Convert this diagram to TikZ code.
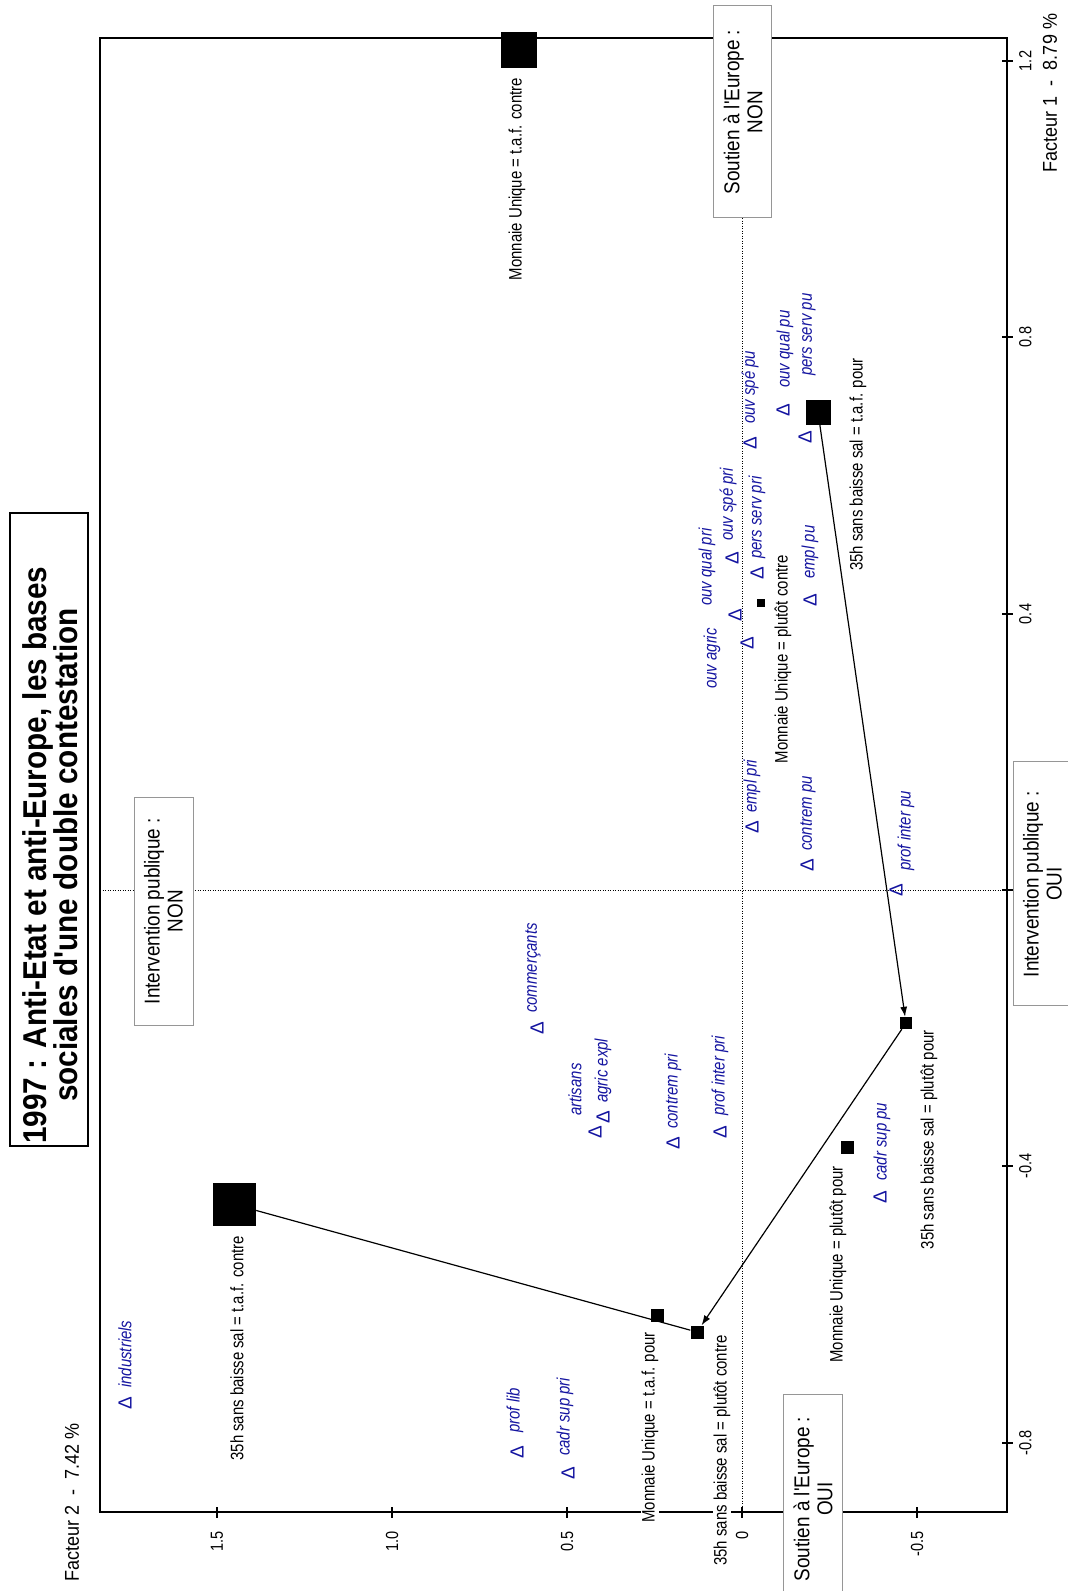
\documentclass[tikz,border=0pt]{standalone}
\usepackage{fontspec}
\setmainfont{Liberation Sans}
\newfontfamily\nf[FakeStretch=0.83]{Liberation Sans}
\newfontfamily\bxf[FakeStretch=0.88]{Liberation Sans}
\newfontfamily\ttf[FakeStretch=0.9]{Liberation Sans}
\usetikzlibrary{arrows.meta}
\definecolor{lblue}{RGB}{20,20,160}
\definecolor{boxgray}{RGB}{150,150,150}
\pgfdeclarelayer{bg}
\pgfsetlayers{bg,main}
\begin{document}
\begin{tikzpicture}[x=1pt,y=-1pt,
  sqr/.style={fill=black,draw=none,inner sep=0pt,minimum size=#1},
  tri/.style={text=lblue,rotate=90,inner sep=0pt,font=\fontsize{19}{19}\selectfont},
  blbl/.style={text=lblue,rotate=90,anchor=west,inner sep=0pt,font=\nf\fontsize{18}{20}\selectfont\itshape},
  klbl/.style={rotate=90,anchor=east,inner sep=1pt,fill=white,font=\nf\fontsize{18}{20}\selectfont},
  gbox/.style={draw=boxgray,fill=white,line width=1pt},
  boxtxt/.style={rotate=90,align=center,inner sep=0pt,font=\bxf\fontsize{21.5}{23}\selectfont},
  rtick/.style={rotate=90,anchor=north,inner sep=0pt,font=\nf\fontsize{17.5}{18}\selectfont},
  btick/.style={rotate=90,anchor=east,inner sep=0pt,font=\nf\fontsize{17.5}{18}\selectfont},
  conn/.style={line width=1.2pt},
  arr/.style={conn,-{Latex[length=10pt,width=7pt]}},
  dotl/.style={line width=0.8pt,dash pattern=on 1pt off 1.5pt}
]
\useasboundingbox (0,0) rectangle (1068,1591);

% ---------- squares (modalities) ----------
\node[sqr=36] (MUtc) at (519,49.5) {};
\node[sqr=43] (Htc) at (234.5,1204.5) {};
\node[sqr=13] (MUtp) at (657,1315) {};
\node[sqr=13] (Hpc) at (697,1332) {};
\node[sqr=12] (Hpp) at (906,1023) {};
\node[sqr=13] (MUpp) at (847,1147) {};
\node[sqr=8] (MUpc) at (761,603) {};
\node[sqr=25] (Htp) at (818,412) {};

\begin{pgfonlayer}{bg}
\fill[white] (0,0) rectangle (1068,1591);
\coordinate (vtop) at (742,38);
\coordinate (vbot) at (742,1512);
\coordinate (hleft) at (100,890);
\coordinate (hright) at (1007,890);
\draw[dotl] (vtop) -- (vbot);
\draw[dotl] (hleft) -- (hright);
\draw[line width=1.4pt] (100,38) rectangle (1007,1512);
\foreach \y in {61,337,614,890,1166,1443} \draw[line width=1.2pt] (1002,\y) -- (1013,\y);
\foreach \x in {217,392,567,742,917} \draw[line width=1.2pt] (\x,1507) -- (\x,1518);
\draw[conn] (Htc) -- (Hpc);
\draw[arr] (Htp) -- (Hpp);
\draw[arr] (Hpp) -- (Hpc);
\end{pgfonlayer}

% ---------- axes labels ----------
\node[rtick] (r1) at (1019,61) {1.2};
\node[rtick] (r2) at (1019,337) {0.8};
\node[rtick] (r3) at (1019,614) {0.4};
\node[rtick] (r4) at (1019,890) {0};
\node[rtick] (r5) at (1019,1166) {-0.4};
\node[rtick] (r6) at (1019,1443) {-0.8};
\node[btick] (c1) at (217,1531) {1.5};
\node[btick] (c2) at (392,1531) {1.0};
\node[btick] (c3) at (567,1531) {0.5};
\node[btick] (c4) at (742,1531) {0};
\node[btick] (c5) at (917,1531) {-0.5};
\node[rotate=90,inner sep=0pt,font=\ttf\fontsize{20}{22}\selectfont] (f1) at (1050,93) {Facteur 1\ \ -\ \ 8.79 \%};
\node[rotate=90,inner sep=0pt,font=\ttf\fontsize{20}{22}\selectfont] (f2) at (72,1502) {Facteur 2\ \ -\ \ 7.42 \%};

% ---------- black labels ----------
\node[klbl] (lMUtc) at (517,77) {Monnaie Unique = t.a.f. contre};
\node[klbl] (lHtc) at (237,1235) {35h sans baisse sal = t.a.f. contre};
\node[klbl] (lMUtp) at (650,1331) {Monnaie Unique = t.a.f. pour};
\node[klbl] (lHpc) at (722,1334) {35h sans baisse sal = plutôt contre};
\node[klbl] (lHpp) at (929,1029) {35h sans baisse sal = plutôt pour};
\node[klbl] (lMUpp) at (838,1165) {Monnaie Unique = plutôt pour};
\node[klbl] (lMUpc) at (783,554) {Monnaie Unique = plutôt contre};
\node[klbl] (lHtp) at (858,357) {35h sans baisse sal = t.a.f. pour};

% ---------- triangles and blue labels ----------
\node[tri] (t1) at (125,1403) {Δ};  \node[blbl] (b1) at (125,1388) {industriels};
\node[tri] (t2) at (517,1452) {Δ};  \node[blbl] (b2) at (515,1433) {prof lib};
\node[tri] (t3) at (568,1473) {Δ};  \node[blbl] (b3) at (565,1456) {cadr sup pri};
\node[tri] (t4) at (537,1028) {Δ};  \node[blbl] (b4) at (533,1013) {commerçants};
\node[tri] (t5) at (595,1132) {Δ};  \node[blbl] (b5) at (575,1116) {artisans};
\node[tri] (t6) at (603,1117) {Δ};  \node[blbl] (b6) at (603,1103) {agric expl};
\node[tri] (t7) at (673,1143) {Δ};  \node[blbl] (b7) at (673,1129) {contrem pri};
\node[tri] (t8) at (720,1132) {Δ};  \node[blbl] (b8) at (720,1116) {prof inter pri};
\node[tri] (t9) at (880,1197) {Δ};  \node[blbl] (b9) at (882,1181) {cadr sup pu};
\node[tri] (t10) at (896,890) {Δ};  \node[blbl] (b10) at (906,871) {prof inter pu};
\node[tri] (t11) at (807,865) {Δ};  \node[blbl] (b11) at (808,851) {contrem pu};
\node[tri] (t12) at (752,827) {Δ};  \node[blbl] (b12) at (752,813) {empl pri};
\node[tri] (t13) at (747,643) {Δ};  \node[blbl] (b13) at (712,689) {ouv agric};
\node[tri] (t14) at (735,615) {Δ};  \node[blbl] (b14) at (707,606) {ouv qual pri};
\node[tri] (t15) at (732,558) {Δ};  \node[blbl] (b15) at (728,541) {ouv spé pri};
\node[tri] (t16) at (757,573) {Δ};  \node[blbl] (b16) at (757,559) {pers serv pri};
\node[tri] (t17) at (810,600) {Δ};  \node[blbl] (b17) at (810,579) {empl pu};
\node[tri] (t18) at (750,443) {Δ};  \node[blbl] (b18) at (750,424) {ouv spé pu};
\node[tri] (t19) at (783,410) {Δ};  \node[blbl] (b19) at (785,388) {ouv qual pu};
\node[tri] (t20) at (805,437) {Δ};  \node[blbl] (b20) at (809,376) {pers serv pu};

% ---------- gray boxes ----------
\draw[gbox] (134,797) rectangle (193,1025);
\node[boxtxt] (ipnon) at (163.5,911) {Intervention publique :\\NON};
\draw[gbox] (1013,761) rectangle (1080,1005);
\node[boxtxt] (ipoui) at (1042.5,884) {Intervention publique :\\OUI};
\draw[gbox] (713,5) rectangle (771,217);
\node[boxtxt] (senon) at (743,112) {Soutien à l'Europe :\\NON};
\draw[gbox] (783,1394) rectangle (842,1604);
\node[boxtxt] (seoui) at (813,1499) {Soutien à l'Europe :\\OUI};

% ---------- title ----------
\draw[line width=1.5pt] (10,513) rectangle (88,1146);
\node[rotate=90,align=center,inner sep=0pt,font=\ttf\bfseries\fontsize{33}{31}\selectfont] (title) at (50,855)
  {1997 : Anti-Etat et anti-Europe, les bases\\sociales d'une double contestation};
\end{tikzpicture}
\end{document}
